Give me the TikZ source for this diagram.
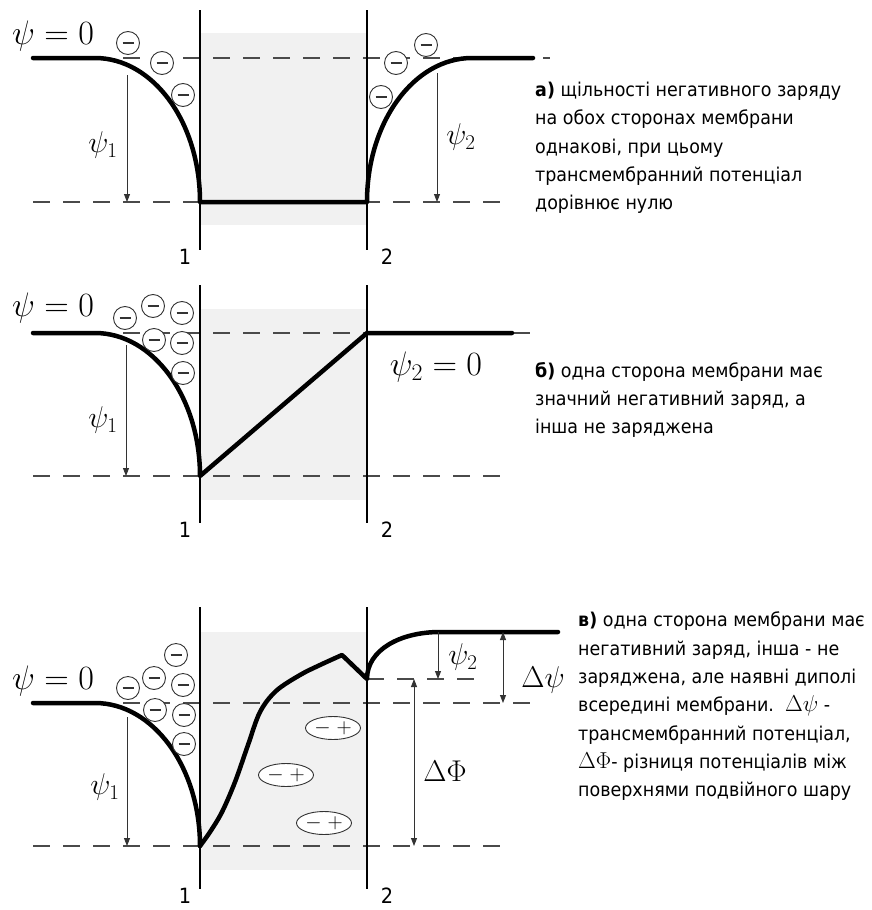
\RequirePackage{fix-cm}
\documentclass[tikz,border=0pt]{standalone}
\usepackage[no-math]{fontspec}
\setmainfont{DejaVu Sans}[FakeStretch=0.92]
\usetikzlibrary{arrows.meta,shapes.geometric}
\definecolor{membr}{HTML}{F1F1F1}
\definecolor{dashc}{HTML}{4A4A4A}
\definecolor{thinc}{HTML}{333333}
\tikzset{
  curve/.style={line width=4.5pt, line cap=round, line join=round},
  guide/.style={dashc, line width=1.2pt, dash pattern=on 17pt off 13pt},
  memline/.style={line width=1.4pt},
  dimarrow/.style={thinc, line width=0.9pt, -{Triangle[length=8pt,width=6pt]}},
  dimboth/.style={thinc, line width=0.9pt, {Triangle[length=8pt,width=6pt]}-{Triangle[length=8pt,width=6pt]}},
  negc/.style={circle, draw=thinc, fill=white, line width=0.9pt, minimum size=23pt, inner sep=0pt},
  dip/.style={ellipse, draw=thinc, fill=white, line width=0.9pt, minimum width=55pt, minimum height=23pt, inner sep=0pt, font=\fontsize{21}{21}\selectfont},
  bigmath/.style={inner sep=0pt, font=\fontsize{34}{34}\selectfont},
  midmath/.style={inner sep=0pt, font=\fontsize{30}{30}\selectfont},
  caption/.style={align=left, anchor=north west, inner sep=0pt, font=\fontsize{19}{28.3}\selectfont},
  ticklab/.style={inner sep=0pt, font=\fontsize{21}{21}\selectfont}
}
\newcommand{\mns}{\textcolor{thinc}{\rule{11pt}{1.4pt}}}
\newcommand{\txm}[1]{{\fontsize{23}{28.3}\selectfont$#1$}}
\begin{document}
\begin{tikzpicture}[x=1pt,y=-1pt]
\fill[white] (0,0) rectangle (872,910);
\useasboundingbox (0,0) rectangle (872,910);

% ---------------- panel a ----------------
\fill[membr] (200,33) rectangle (367,225);
\draw[guide] (33,58) -- (550,58);
\draw[guide] (33,202) -- (507,202);
\draw[memline] (200,10) -- (200,250);
\draw[memline] (367,10) -- (367,250);
\draw[curve] (33,58) -- (95,58) .. controls (153,58) and (200,122) .. (200,202) -- (367,202)
  .. controls (367,122) and (414,58) .. (472,58) -- (533,58);
\coordinate (a1top) at (127,75); \coordinate (a1bot) at (127,202);
\draw[dimarrow] (a1top) -- (a1bot);
\coordinate (a2top) at (437,73); \coordinate (a2bot) at (437,202);
\draw[dimarrow] (a2top) -- (a2bot);
\node[bigmath] (azero) at (53,36) {$\psi=0$};
\node[midmath] (apsi1) at (103,145) {$\psi_1$};
\node[midmath] (apsi2) at (461,137) {$\psi_2$};
\node[negc] (an1) at (128,43) {\mns};
\node[negc] (an2) at (162,63) {\mns};
\node[negc] (an3) at (183,95) {\mns};
\node[negc] (an4) at (426,45) {\mns};
\node[negc] (an5) at (396,63) {\mns};
\node[negc] (an6) at (381,97) {\mns};
\node[ticklab] (aone) at (185,257) {1};
\node[ticklab] (atwo) at (387,257) {2};
\node[caption] (atext) at (535,82) {\textbf{а)} щільності негативного заряду\\на обох сторонах мембрани\\однакові, при цьому\\трансмембранний потенціал\\дорівнює нулю};

% ---------------- panel b ----------------
\fill[membr] (200,309) rectangle (367,500);
\draw[guide] (33,333) -- (533,333);
\draw[guide] (33,476) -- (507,476);
\draw[memline] (200,285) -- (200,523);
\draw[memline] (367,285) -- (367,523);
\draw[curve] (33,333) -- (95,333) .. controls (153,333) and (200,397) .. (200,476) -- (367,333) -- (512,333);
\coordinate (b1top) at (126,345); \coordinate (b1bot) at (126,476);
\draw[dimarrow] (b1top) -- (b1bot);
\node[bigmath] (bzero) at (53,308) {$\psi=0$};
\node[midmath] (bpsi1) at (103,420) {$\psi_1$};
\node[bigmath] (bpsi2) at (436,367) {$\psi_2=0$};
\node[negc] (bn1) at (125,318) {\mns};
\node[negc] (bn2) at (153,306) {\mns};
\node[negc] (bn3) at (182,313) {\mns};
\node[negc] (bn4) at (154,340) {\mns};
\node[negc] (bn5) at (182,343) {\mns};
\node[negc] (bn6) at (183,373) {\mns};
\node[ticklab] (bone) at (185,530) {1};
\node[ticklab] (btwo) at (387,530) {2};
\node[caption] (btext) at (535,362) {\textbf{б)} одна сторона мембрани має\\значний негативний заряд, а\\інша не заряджена};

% ---------------- panel c ----------------
\fill[membr] (200,632) rectangle (367,870);
\draw[guide] (33,703) -- (533,703);
\draw[guide] (33,846) -- (507,846);
\draw[guide] (367,679) -- (477,679);
\draw[memline] (200,607) -- (200,889);
\draw[memline] (367,607) -- (367,889);
\draw[curve] (33,703) -- (95,703) .. controls (153,703) and (200,767) .. (200,846);
\draw[curve] plot[smooth, tension=0.55] coordinates {(200,846) (210,832) (222,812) (235,782) (248,745) (260,712) (276,691) (300,675) (320,665) (342,655)}
  -- (367,679) .. controls (367,650) and (400,632) .. (440,632) -- (558,632);
\coordinate (c1top) at (127,717); \coordinate (c1bot) at (127,846);
\draw[dimarrow] (c1top) -- (c1bot);
\coordinate (c2top) at (438,632); \coordinate (c2bot) at (438,679);
\draw[dimarrow] (c2top) -- (c2bot);
\coordinate (cdtop) at (503,632); \coordinate (cdbot) at (503,703);
\draw[dimboth] (cdtop) -- (cdbot);
\coordinate (cftop) at (414,679); \coordinate (cfbot) at (414,846);
\draw[dimboth] (cftop) -- (cfbot);
\node[bigmath] (czero) at (53,681) {$\psi=0$};
\node[midmath] (cpsi1) at (105,787) {$\psi_1$};
\node[midmath] (cpsi2) at (463,657) {$\psi_2$};
\node[midmath] (cdpsi) at (543,680) {$\Delta\psi$};
\node[midmath] (cdphi) at (445,771) {$\Delta\Phi$};
\node[negc] (cn1) at (176,655) {\mns};
\node[negc] (cn2) at (154,678) {\mns};
\node[negc] (cn3) at (183,685) {\mns};
\node[negc] (cn4) at (128,688) {\mns};
\node[negc] (cn5) at (155,710) {\mns};
\node[negc] (cn6) at (184,715) {\mns};
\node[negc] (cn7) at (184,744) {\mns};
\node[dip] (cd1) at (333,728) {$-\;+$};
\node[dip] (cd2) at (286,775) {$-\;+$};
\node[dip] (cd3) at (324,823) {$-\;+$};
\node[ticklab] (cone) at (185,896) {1};
\node[ticklab] (ctwo) at (387,896) {2};
\node[caption] (ctext) at (578,612) {\textbf{в)} одна сторона мембрани має\\негативний заряд, інша - не\\заряджена, але наявні диполі\\всередині мембрани.\ \ \txm{\Delta\psi} -\\трансмембранний потенціал,\\\txm{\Delta\Phi}- різниця потенціалів між\\поверхнями подвійного шару};
\end{tikzpicture}
\end{document}
